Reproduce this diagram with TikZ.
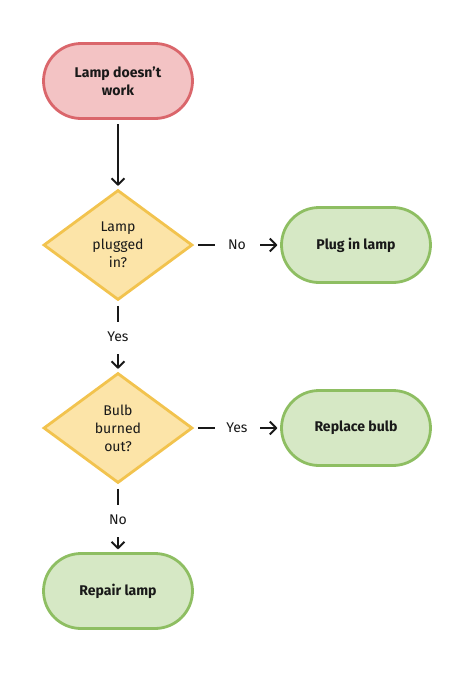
\documentclass[tikz,border=0pt]{standalone}
\usepackage{fontspec}
\setmainfont{Fira Sans}
\usetikzlibrary{shapes.geometric, arrows.meta}
\definecolor{startfill}{HTML}{F3C3C4}
\definecolor{startline}{HTML}{DA666B}
\definecolor{askfill}{HTML}{FCE4A8}
\definecolor{askline}{HTML}{F2C34E}
\definecolor{dofill}{HTML}{D6E8C5}
\definecolor{doline}{HTML}{8EBE62}
\tikzset{
  terminal/.style={rectangle, rounded corners=0.75cm, minimum width=2.98cm,
    minimum height=1.5cm, line width=1.6pt, align=center,
    font=\fontsize{8}{10.2}\selectfont\bfseries},
  badstate/.style={terminal, draw=startline, fill=startfill},
  fixstate/.style={terminal, draw=doline, fill=dofill},
  question/.style={diamond, draw=askline, fill=askfill, line width=1.6pt,
    minimum width=2.98cm, minimum height=2.2cm, inner sep=0pt, align=center,
    font=\fontsize{8}{10.2}\selectfont},
  answer/.style={inner sep=0pt, minimum width=0.75cm, minimum height=0.5cm,
    font=\fontsize{8}{10.2}\selectfont},
  link/.style={line width=1.1pt, shorten <=2.5pt, shorten >=1.5pt},
  linkto/.style={link, -{Straight Barb[length=3.6pt, width=7.4pt, line width=1.1pt]}}
}
\begin{document}
\begin{tikzpicture}[x=0.02cm, y=-0.02cm, color=black!90]
    \useasboundingbox (0,0) rectangle (474,674);

    % flow boxes
    \node [badstate] (nowork)  at (118,81)  {Lamp doesn’t\\work};
    \node [question] (plugged) at (118,245) {Lamp\\plugged\\in?};
    \node [fixstate] (plugin)  at (356,245) {Plug in lamp};
    \node [question] (burned)  at (118,428) {Bulb\\burned\\out?};
    \node [fixstate] (replace) at (356,428) {Replace bulb};
    \node [fixstate] (repair)  at (118,591) {Repair lamp};

    % answer labels
    \node [answer] (noplug)  at (237,245) {No};
    \node [answer] (yesplug) at (118,337) {Yes};
    \node [answer] (yesbulb) at (237,428) {Yes};
    \node [answer] (nobulb)  at (118,520) {No};

    % connectors
    \draw [linkto] (nowork) -- (plugged);
    \draw [link] (plugged) -- (noplug);
    \draw [linkto] (noplug) -- (plugin);
    \draw [link] (plugged) -- (yesplug);
    \draw [linkto] (yesplug) -- (burned);
    \draw [link] (burned) -- (yesbulb);
    \draw [linkto] (yesbulb) -- (replace);
    \draw [link] (burned) -- (nobulb);
    \draw [linkto] (nobulb) -- (repair);
\end{tikzpicture}
\end{document}
